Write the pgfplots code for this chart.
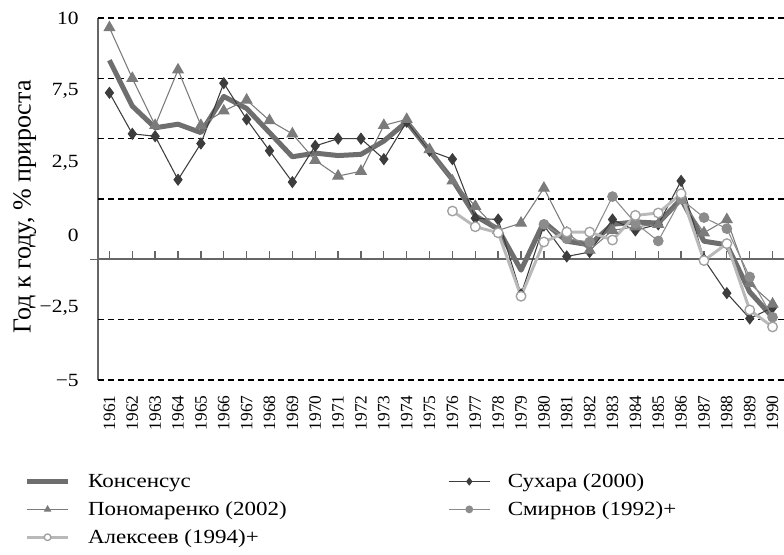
\documentclass[border=0pt]{standalone}
\usepackage{fontspec}
\setmainfont{Liberation Serif}[FakeStretch=1.15]
\newfontfamily\rotfont{Liberation Serif}
\usepackage{pgfplots}
\pgfplotsset{compat=1.18}
\usepackage{pgfplotstable}

\definecolor{axgray}{HTML}{666666}
\definecolor{cons}{HTML}{6E6E6E}
\definecolor{sukh}{HTML}{3D3D3D}
\definecolor{pon}{HTML}{7B7B7B}
\definecolor{smir}{HTML}{8C8C8C}
\definecolor{alekl}{HTML}{B9B9B9}
\definecolor{alekm}{HTML}{A0A0A0}

\pgfplotstableread{
year cons sukh pon smir alek
1961 8.25 6.9 9.6 nan nan
1962 6.35 5.2 7.5 nan nan
1963 5.45 5.1 5.55 nan nan
1964 5.6 3.3 7.85 nan nan
1965 5.25 4.8 5.55 nan nan
1966 6.75 7.3 6.15 nan nan
1967 6.25 5.8 6.6 nan nan
1968 5.25 4.5 5.75 nan nan
1969 4.25 3.2 5.2 nan nan
1970 4.4 4.7 4.1 nan nan
1971 4.3 5.0 3.45 nan nan
1972 4.35 5.0 3.65 nan nan
1973 4.9 4.15 5.55 nan nan
1974 5.7 5.7 5.8 nan nan
1975 4.5 4.5 4.55 nan nan
1976 3.3 4.15 3.25 nan 2.0
1977 1.8 1.7 2.2 nan 1.35
1978 1.25 1.65 1.2 nan 1.1
1979 -0.45 -1.45 1.5 nan -1.53
1980 1.55 1.4 2.95 1.45 0.72
1981 0.75 0.12 1.1 0.85 1.13
1982 0.6 0.3 0.38 0.72 1.13
1983 1.45 1.65 1.2 2.6 0.8
1984 1.55 1.2 1.35 1.5 1.82
1985 1.5 1.45 1.45 0.76 1.92
1986 2.5 3.25 2.45 2.5 2.72
1987 0.75 0.0 1.1 1.73 -0.05
1988 0.6 -1.4 1.65 1.27 0.65
1989 -1.35 -2.45 -1.0 -0.73 -2.1
1990 -2.4 -2.0 -1.85 -2.4 -2.8
}\datatable

\begin{document}
\begin{tikzpicture}
% zero line with its small ticks (drawn behind the data)
\begin{axis}[
  scale only axis, width=514.5pt, height=271.5pt,
  xmin=1960.5, xmax=1990.5, ymin=-5, ymax=10,
  axis x line=middle, axis y line=left,
  x axis line style={-, draw=axgray, line width=1.5pt},
  y axis line style={draw=none},
  xtick={1961,...,1990}, minor x tick num=1, xticklabels={},
  ytick={0}, yticklabels={},
  xtick align=inside, ytick align=outside,
  major tick length=6pt, minor tick length=5pt,
  x tick style={draw=axgray, line width=1pt},
  y tick style={draw=axgray, line width=1.2pt},
]
\end{axis}
\begin{axis}[
  scale only axis, width=514.5pt, height=271.5pt,
  xmin=1960.5, xmax=1990.5, ymin=-5, ymax=10,
  axis y line*=left, axis x line*=bottom,
  x axis line style={draw=none},
  y axis line style={-, draw=axgray, line width=1.5pt},
  xtick={1961,...,1990},
  /pgf/number format/1000 sep={},
  /pgf/number format/assume math mode=true,
  xticklabel style={font=\rotfont\fontsize{13}{15}\selectfont, rotate=90, anchor=east, xshift=-8pt},
  major x tick style={draw=none},
  ytick={10,7,4,1,-2,-5},
  yticklabels={10,{7,5},{2,5},0,{−2,5},{−5}},
  yticklabel style={font=\fontsize{14}{16}\selectfont, xshift=-11pt},
  major y tick style={draw=none},
  extra y ticks={-5,-2.5,2.5,5,7.5,10},
  extra y tick labels={},
  extra y tick style={grid=major, tick align=outside, major tick length=6pt,
     major tick style={draw=axgray, line width=1.2pt}},
  major grid style={black, line width=1pt, dash pattern=on 4.5pt off 3pt},
  every axis y label/.style={at={(rel axis cs:0,0.5)}, xshift=-55pt, yshift=-6pt, rotate=90, anchor=center, font=\rotfont\fontsize{19.5}{22}\selectfont},
  ylabel={Год к году, \% прироста},
  unbounded coords=jump,
  legend columns=2,
  legend cell align=left,
  legend style={draw=none, fill=none, at={(rel axis cs:-0.1135,-0.243)}, anchor=north west,
    font=\fontsize{15}{17}\selectfont, row sep=5pt,
    /tikz/every even column/.append style={column sep=119pt}},
  legend image code/.code={\draw[mark repeat=2, mark phase=2, mark size=2.5pt] plot coordinates {(0pt,0pt) (15.5pt,0pt) (31pt,0pt)}; \path (42pt,0pt);},
]
\coordinate (sw) at (rel axis cs:0,0);
\coordinate (ne) at (rel axis cs:1,1);
\addplot[cons, line width=3.75pt, line join=round, no marks] table[x=year, y=cons] {\datatable};
\addlegendentry{Консенсус}
\addplot[sukh, line width=0.8pt, mark=diamond*, mark size=4pt, mark options={fill=sukh, draw=sukh}] table[x=year, y=sukh] {\datatable};
\addlegendentry{Сухара (2000)}
\addplot[pon, line width=0.8pt, mark=triangle*, mark size=4.5pt, mark options={fill=pon, draw=pon}] table[x=year, y=pon] {\datatable};
\addlegendentry{Пономаренко (2002)}
\addplot[smir, line width=0.8pt, mark=*, mark size=3.6pt, mark options={fill=smir, draw=smir}] table[x=year, y=smir] {\datatable};
\addlegendentry{Смирнов (1992)+}
\addplot[alekl, line width=2.2pt, line join=round, mark=*, mark size=3.6pt, mark options={fill=white, draw=alekm, line width=1pt}] table[x=year, y=alek] {\datatable};
\addlegendentry{Алексеев (1994)+}
\end{axis}
\pgfresetboundingbox
\path ([xshift=-73.5pt,yshift=-131.25pt]sw) rectangle ([yshift=13.5pt]ne);
\end{tikzpicture}
\end{document}
